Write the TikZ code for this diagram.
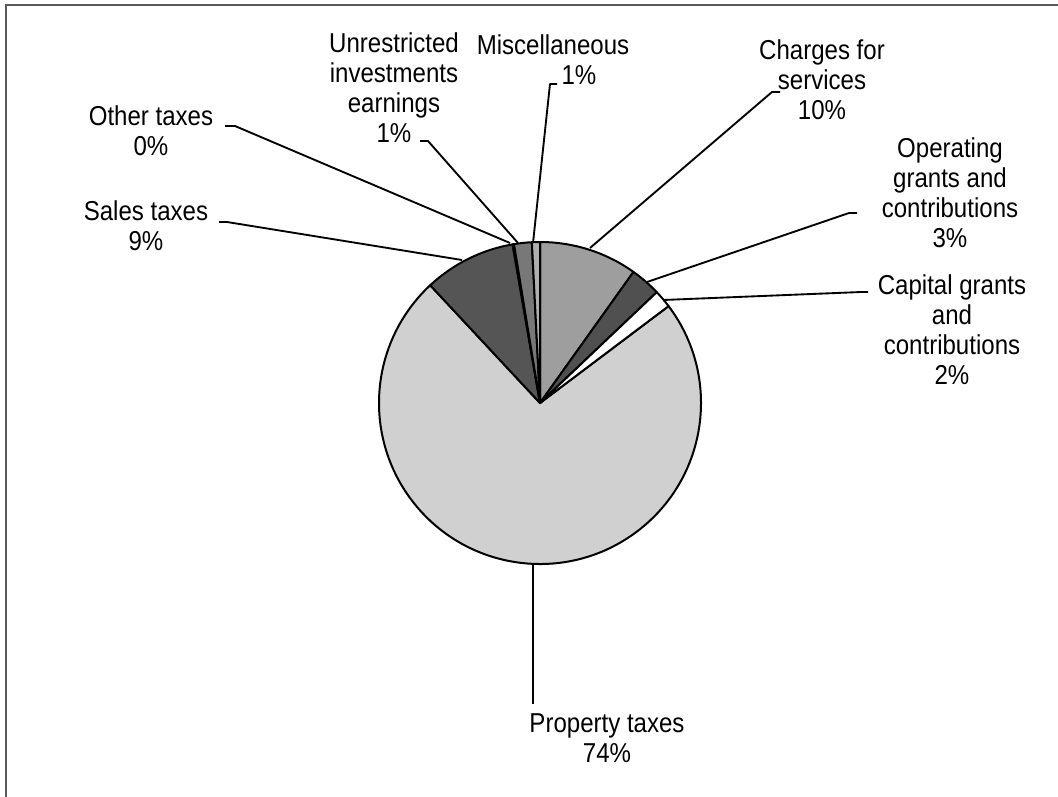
\documentclass[tikz,border=0pt]{standalone}
\usepackage{fontspec}
\setmainfont{Liberation Sans}[FakeStretch=0.88]
\definecolor{cCharges}{RGB}{158,158,158}
\definecolor{cOper}{RGB}{80,80,80}
\definecolor{cCap}{RGB}{255,255,255}
\definecolor{cProp}{RGB}{208,208,208}
\definecolor{cSales}{RGB}{85,85,85}
\definecolor{cOther}{RGB}{60,60,60}
\definecolor{cUnr}{RGB}{120,120,120}
\definecolor{cMisc}{RGB}{175,175,175}
\definecolor{cFrame}{RGB}{90,90,90}
\newcommand\pieslice[3]{\filldraw[wedge, fill=#3] (C) -- ++(-#1:161) arc[start angle=-#1, end angle=-#2, radius=161] -- cycle;}
\begin{document}
\begin{tikzpicture}[x=0.75pt,y=-0.75pt,
  lab/.style={align=center, font=\fontsize{20.5}{22.5}\selectfont, inner sep=0pt},
  leader/.style={draw=black, line width=1.4pt, line join=round},
  wedge/.style={draw=black, line width=1.5pt, line join=round}]
\useasboundingbox (0,0) rectangle (1058,797);
\fill[white] (0,0) rectangle (1058,797);
\draw[cFrame, line width=1pt] (6,797) -- (6,5) -- (1058,5);

\coordinate (C) at (540,403);
\pieslice{37}{-227}{cProp}
\pieslice{90}{54.5}{cCharges}
\pieslice{54.5}{43.5}{cOper}
\pieslice{43.5}{37}{cCap}
\pieslice{133}{99.8}{cSales}
\pieslice{99.8}{99.3}{cOther}
\pieslice{99.3}{92.9}{cUnr}
\pieslice{92.9}{90}{cMisc}

\node[lab] (lUnr) at (394,88) {Unrestricted\\investments\\earnings\\1\%};
\node[lab] (lMisc) at (553,60) {Miscellaneous\\\hspace*{1.9em}1\%};
\node[lab] (lChg) at (822,80) {Charges for\\services\\10\%};
\node[lab] (lOpr) at (950,193) {Operating\\grants and\\contributions\\3\%};
\node[lab] (lCap) at (952,330) {Capital grants\\and\\contributions\\2\%};
\node[lab] (lProp) at (607,738) {Property taxes\\74\%};
\node[lab] (lSales) at (146,226) {Sales taxes\\9\%};
\node[lab] (lOth) at (151,131) {Other taxes\\0\%};

\coordinate (oS) at (225,126); \coordinate (oK) at (235,126); \coordinate (oP) at (510,243);
\coordinate (sS) at (219,222); \coordinate (sK) at (227,222); \coordinate (sP) at (462,260);
\coordinate (uS) at (420,141); \coordinate (uK) at (428,141); \coordinate (uP) at (518,243);
\coordinate (mS) at (557,84);  \coordinate (mK) at (550,84);  \coordinate (mP) at (533,243);
\coordinate (cS) at (780,92);  \coordinate (cK) at (772,92);  \coordinate (cP) at (590,248);
\coordinate (opS) at (857,213); \coordinate (opK) at (849,213); \coordinate (opP) at (647,282);
\coordinate (caS) at (868,292); \coordinate (caK) at (861,292); \coordinate (caP) at (663,300);
\coordinate (pP) at (533,563); \coordinate (pS) at (533,704);

\draw[leader] (oS) -- (oK) -- (oP);
\draw[leader] (sS) -- (sK) -- (sP);
\draw[leader] (uS) -- (uK) -- (uP);
\draw[leader] (mS) -- (mK) -- (mP);
\draw[leader] (cS) -- (cK) -- (cP);
\draw[leader] (opS) -- (opK) -- (opP);
\draw[leader] (caS) -- (caK) -- (caP);
\draw[leader] (pP) -- (pS);
\end{tikzpicture}
\end{document}
